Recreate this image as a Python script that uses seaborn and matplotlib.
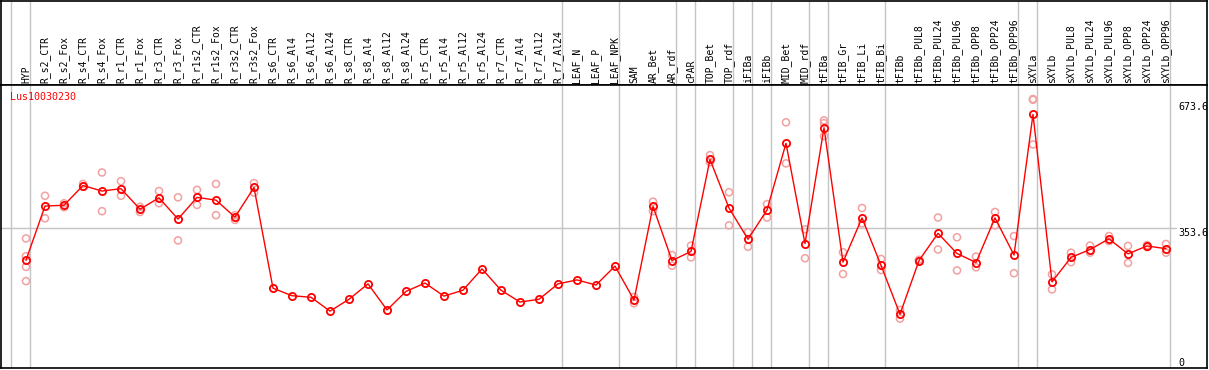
import matplotlib
matplotlib.use("Agg")
import matplotlib.pyplot as plt
import seaborn as sns
import numpy as np
import pandas as pd

# nombre del gen y muestras
gene = "Lus10030230"

samples = ["HYP",
           "R_s2_CTR", "R_s2_Fox", "R_s4_CTR", "R_s4_Fox", "R_r1_CTR", "R_r1_Fox",
           "R_r3_CTR", "R_r3_Fox", "R_r1s2_CTR", "R_r1s2_Fox", "R_r3s2_CTR", "R_r3s2_Fox",
           "R_s6_CTR", "R_s6_Al4", "R_s6_Al12", "R_s6_Al24",
           "R_s8_CTR", "R_s8_Al4", "R_s8_Al12", "R_s8_Al24",
           "R_r5_CTR", "R_r5_Al4", "R_r5_Al12", "R_r5_Al24",
           "R_r7_CTR", "R_r7_Al4", "R_r7_Al12", "R_r7_Al24",
           "LEAF_N", "LEAF_P", "LEAF_NPK",
           "SAM", "AR_Bet", "AR_rdf", "cPAR", "TOP_Bet", "TOP_rdf",
           "iFIBa", "iFIBb", "MID_Bet", "MID_rdf", "tFIBa",
           "tFIB_Gr", "tFIB_Li", "tFIB_Bi",
           "tFIBb", "tFIBb_PUL8", "tFIBb_PUL24", "tFIBb_PUL96",
           "tFIBb_OPP8", "tFIBb_OPP24", "tFIBb_OPP96",
           "sXYLa", "sXYLb", "sXYLb_PUL8", "sXYLb_PUL24", "sXYLb_PUL96",
           "sXYLb_OPP8", "sXYLb_OPP24", "sXYLb_OPP96"]

# medias
means = [273,
         410, 412, 462, 448, 454, 402, 431, 377, 432, 425, 382, 457,
         202, 183, 179, 144, 174, 213, 147, 194, 215, 182, 197, 251,
         197, 167, 174, 213,
         223, 210, 258,
         172, 409, 272, 295, 528, 405,
         326, 400, 569, 315, 608,
         268, 380, 260,
         136, 272, 341, 290, 267, 380, 286,
         642, 218, 280, 300, 327, 289, 309, 302]

# replicas
replicates = [[328, 283, 256, 220],
              [436, 379], [407, 417], [466, 459], [495, 397], [473, 436], [408, 395],
              [448, 417], [432, 323], [451, 413], [466, 387], [387, 375], [468, 444],
              [], [], [], [], [], [], [], [], [], [], [], [],
              [], [], [], [],
              [], [], [],
              [180, 164], [421, 397], [286, 259], [310, 280], [539, 521], [445, 361],
              [344, 307], [415, 381], [622, 518], [351, 278], [627, 620, 587],
              [293, 238], [405, 366], [276, 248],
              [147, 125], [274, 270], [381, 300], [331, 247], [282, 255], [395, 361], [334, 240],
              [681, 679, 566], [237, 199], [292, 268], [310, 292], [334, 321], [309, 266],
              [311, 306], [314, 292]]

# tamaños de los grupos (lineas verticales)
group_sizes = [1, 28, 3, 3, 1, 2, 1, 1, 2, 1, 3, 7, 1, 7]

axis_labels = ["673.6", "353.6", "0"]
axis_values = [673.6, 353.6, 0]

df = pd.DataFrame({"pos": np.arange(len(samples)), "muestra": samples, "valor": means})
reps = pd.DataFrame([(i, v) for i, r in enumerate(replicates) for v in r],
                    columns=["pos", "valor"])

sns.set_style("white")
plt.rcParams["font.family"] = ["DejaVu Sans Mono"]

W, H = 1209, 370
fig = plt.figure(figsize=(W / 100, H / 100), dpi=100)
ax_h = fig.add_axes([1 / W, (H - 85) / H, 1206 / W, 84.5 / H])
ax = fig.add_axes([1 / W, 2 / H, 1206 / W, 283 / H])

xlim = ((1 - 26) / 19, (1207 - 26) / 19)
for a in (ax_h, ax):
    a.set_xlim(*xlim)
    a.set_xticks([])
    a.set_yticks([])
    a.set_xlabel("")
    a.set_ylabel("")
    for s in a.spines.values():
        s.set_color("black")
        s.set_linewidth(1.2)
ax_h.set_ylim(0, 1)
ax.set_ylim(0, 716.5)

# lineas de grupo
bounds = np.concatenate([[0], np.cumsum(group_sizes)]) - 1 + 0.22
for b in bounds:
    ax.axvline(b, color="#c4c4c4", lw=1, zorder=0)
    ax_h.axvline(b, color="#c4c4c4", lw=1, zorder=0)

ax.axhline(353.6, xmax=(1176 - 1) / 1206, color="#c4c4c4", lw=1, zorder=0)

# replicas y medias
sns.scatterplot(data=reps, x="pos", y="valor", ax=ax, marker="o", s=26,
                facecolor="none", edgecolor="#f2a0a0", linewidth=1.1, zorder=2)
sns.lineplot(data=df, x="pos", y="valor", ax=ax, color="red", linewidth=1,
             marker="o", markersize=5.2, markerfacecolor="none",
             markeredgecolor="red", markeredgewidth=1.3, zorder=3)
ax.set_xlabel("")
ax.set_ylabel("")

# etiquetas de cabecera
for i, name in enumerate(samples):
    ax_h.text(i, 0.025, name, rotation=90, ha="center", va="bottom",
              fontsize=7, color="black")

# etiquetas del eje derecho
xr = (1178 - 26) / 19
for lab, v in zip(axis_labels, axis_values):
    ax.text(xr, v, lab, ha="left", va="bottom" if v == 0 else "top",
            fontsize=7.2, color="black")

fig.text(10 / W, 1 - 97 / H, gene, color="red", fontsize=7.2, ha="left", va="center")

fig.savefig("out.png", dpi=100)
